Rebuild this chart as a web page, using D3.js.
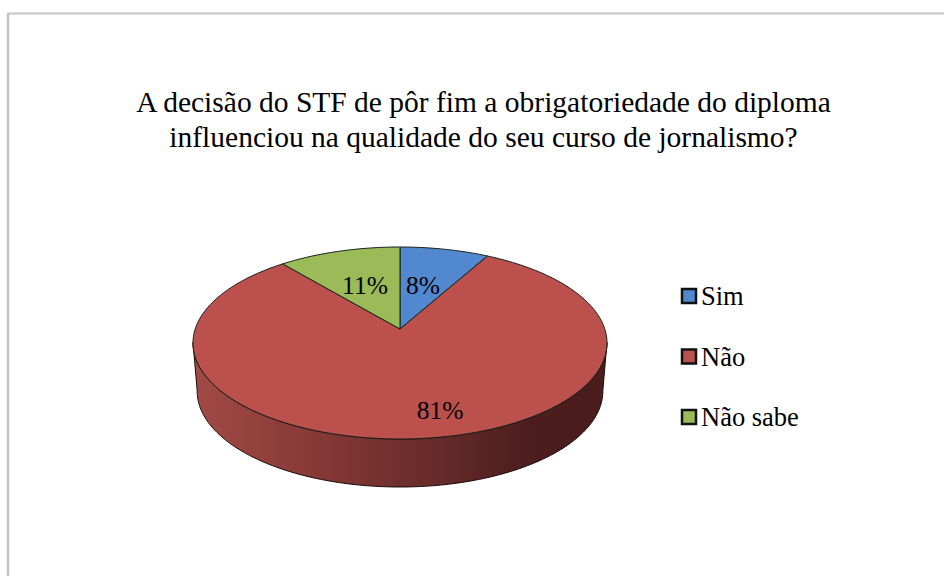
<!DOCTYPE html>
<html><head><meta charset="utf-8">
<script src="https://cdnjs.cloudflare.com/ajax/libs/d3/7.8.5/d3.min.js"></script>
<style>html,body{margin:0;padding:0;background:#fff}svg{display:block}text{font-family:"Liberation Serif",serif;fill:#000}</style>
</head><body><svg id="c" width="944" height="576"></svg>
<script>
const titleLines = ["A decisão do STF de pôr fim a obrigatoriedade do diploma","influenciou na qualidade do seu curso de jornalismo?"];
const categories = ["Sim","Não","Não sabe"];
const values = [8,81,11];
const colors = ["#5288cf","#bc504d","#9bbb59"];

const svg = d3.select("#c");
const defs = svg.append("defs");
const grad = defs.append("linearGradient").attr("id","side").attr("x1","0").attr("x2","1").attr("y1","0").attr("y2","0");
[[0,"#a34a46"],[0.3,"#853935"],[0.6,"#652a29"],[0.8,"#4c1e1d"],[1,"#4a1c1b"]].forEach(s=>grad.append("stop").attr("offset",s[0]).attr("stop-color",s[1]));

// frame
svg.append("line").attr("x1",8).attr("x2",944).attr("y1",13.5).attr("y2",13.5).attr("stroke","#c4c4c4").attr("stroke-width",2);
svg.append("line").attr("x1",8).attr("x2",8).attr("y1",13).attr("y2",576).attr("stroke","#c4c4c4").attr("stroke-width",2.5);

// title
svg.selectAll(".t").data(titleLines).join("text").attr("class","t")
  .attr("x",483.5).attr("y",(d,i)=>112+i*35).attr("text-anchor","middle").attr("font-size",29.5).text(d=>d);

// perspective projection of the pie disc
const cx=400, apexY=329, farY=247, nearY=439, halfW=207, depth=48, bottomScale=0.98;
const c=(2*apexY-farY-nearY)/(nearY-farY);
const a=(nearY*(1+c)-apexY);
const dW=halfW*Math.sqrt(1-c*c);
function proj(t){const u=Math.sin(t),v=-Math.cos(t),den=1+c*v;return [cx+dW*u/den,(apexY+a*v)/den];}
const angleStep=Math.PI/180;

const pie=d3.pie().sort(null).value(d=>d)(values);
const line=d3.line();

// rim: the visible front half of the disc wall
const ts=d3.range(0,361).map(d=>d*angleStep);
let left=0,right=0;
ts.forEach(t=>{const p=proj(t);if(p[0]>proj(right)[0])right=t;if(p[0]<proj(left)[0])left=t;});
const front=d3.range(right,left+angleStep/2,angleStep);
const topEdge=front.map(proj);
const botEdge=front.map(t=>{const p=proj(t);return [cx+(p[0]-cx)*bottomScale,p[1]+depth];});
svg.append("path").attr("d",line(topEdge.concat(botEdge.reverse()))+"Z").attr("fill","url(#side)").attr("stroke","#1a0a0a").attr("stroke-width",1);

// slices
pie.forEach((s,i)=>{
  const arcPts=d3.range(s.startAngle,s.endAngle,angleStep).concat([s.endAngle]).map(proj);
  svg.append("path").attr("d",line([[cx,apexY]].concat(arcPts))+"Z").attr("fill",colors[i]).attr("stroke","#15201a").attr("stroke-width",1).attr("stroke-linejoin","round");
});

// value labels
const labelPos=[[423,294],[440,419],[365,294]];
svg.selectAll(".v").data(values).join("text").attr("class","v")
  .attr("x",(d,i)=>labelPos[i][0]).attr("y",(d,i)=>labelPos[i][1]).attr("text-anchor","middle").attr("font-size",25.5).text(d=>d+"%");

// legend
const legY=d3.scalePoint().domain(categories).range([305,426]);
const leg=svg.selectAll(".l").data(categories).join("g").attr("class","l");
leg.append("rect").attr("x",682).attr("y",d=>legY(d)-16).attr("width",14).attr("height",14)
  .attr("fill",(d,i)=>colors[i]).attr("stroke","#111").attr("stroke-width",2.5);
leg.append("text").attr("x",701).attr("y",d=>legY(d)).attr("font-size",26.5).text(d=>d);
</script></body></html>
